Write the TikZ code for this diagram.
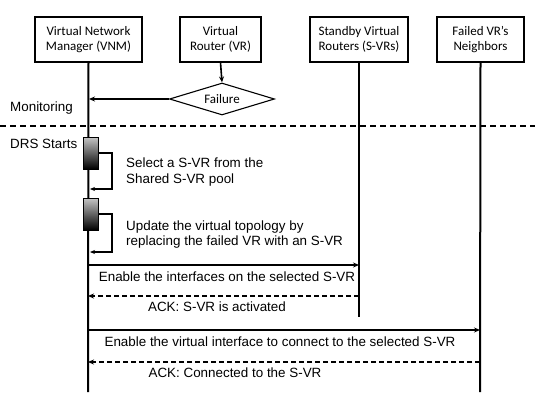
\documentclass[tikz,border=0pt]{standalone}
\usepackage{fontspec}
\setmainfont{Liberation Sans}
\newfontfamily\boxfont{Carlito}
\usetikzlibrary{shapes.geometric,arrows.meta}
\begin{document}
\begin{tikzpicture}[x=1pt,y=-1pt,
  actor/.style={draw,line width=1.1pt,minimum width=#1,minimum height=45pt,align=center,font=\boxfont\fontsize{13}{15.5}\selectfont,inner sep=2pt},
  life/.style={line width=2pt},
  msg/.style={line width=1.6pt,-{Stealth[length=6pt,width=5pt]}},
  ack/.style={msg,dash pattern=on 5pt off 3pt},
  lbl/.style={font=\fontsize{13.4}{15.5}\selectfont,inner sep=0pt},
  act/.style={draw,line width=0.6pt,top color=gray!45,bottom color=black,minimum width=15pt,minimum height=32pt,inner sep=0pt}]
\useasboundingbox (0,0) rectangle (535,401);
% actors
\node[actor=107pt] (vnm) at (88.5,39.5) {Virtual Network\\Manager (VNM)};
\node[actor=81pt] (vr) at (220.5,39.5) {Virtual\\Router (VR)};
\node[actor=98pt] (svr) at (359,39.5) {Standby Virtual\\Routers (S-VRs)};
\node[actor=87pt] (nb) at (480.5,39.5) {Failed VR’s\\Neighbors};
% lifeline ends
\coordinate (vnmEnd) at (88,392);
\coordinate (svrEnd) at (359,317);
\coordinate (nbEnd) at (480,392);
\draw[life] (vnm.south) -- (vnmEnd);
\draw[life] (svr.south) -- (svrEnd);
\draw[life] (nb.south) -- (nbEnd);
% failure
\node[diamond,draw,line width=1.1pt,aspect=3.3,inner sep=0pt,minimum width=105pt,minimum height=32pt,font=\boxfont\fontsize{13}{15}\selectfont] (fail) at (222,99) {Failure};
\draw[msg] (vr.south) -- (fail.north);
\coordinate (monEnd) at (89,99);
\draw[msg] (fail.west) -- (monEnd);
\node[lbl,anchor=west] (mon) at (10,108) {Monitoring};
\coordinate (dl) at (0,126);
\coordinate (dr) at (535,126);
\draw[line width=1.3pt,dash pattern=on 6pt off 4pt] (dl) -- (dr);
\node[lbl,anchor=west] (drs) at (10,144) {DRS Starts};
% activation 1
\node[act] (a1) at (90.5,153) {};
\coordinate (l1a) at (112,153);
\coordinate (l1b) at (112,189);
\coordinate (l1c) at (90,189);
\draw[line width=1.5pt,-{Stealth[length=5pt,width=4pt]}] (a1.east |- l1a) -- (l1a) -- (l1b) -- (l1c);
\node[lbl,anchor=west,align=left] (t1) at (126,172) {Select a S-VR from the\\Shared S-VR pool};
% activation 2
\node[act] (a2) at (90.5,214) {};
\coordinate (l2a) at (112,214);
\coordinate (l2b) at (112,252);
\coordinate (l2c) at (90,252);
\draw[line width=1.5pt,-{Stealth[length=5pt,width=4pt]}] (a2.east |- l2a) -- (l2a) -- (l2b) -- (l2c);
\node[lbl,anchor=west,align=left] (t2) at (126,234.5) {Update the virtual topology by\\replacing the failed VR with an S-VR};
% messages
\coordinate (m1s) at (88,265);
\coordinate (m1e) at (359,265);
\draw[msg] (m1s) -- (m1e);
\node[lbl] (m1t) at (227,277) {Enable the interfaces on the selected S-VR};
\coordinate (m2s) at (359,296);
\coordinate (m2e) at (88,296);
\draw[ack] (m2s) -- (m2e);
\node[lbl] (m2t) at (217,307) {ACK: S-VR is activated};
\coordinate (m3s) at (88,330);
\coordinate (m3e) at (480,330);
\draw[msg] (m3s) -- (m3e);
\node[lbl] (m3t) at (280,342) {Enable the virtual interface to connect to the selected S-VR};
\coordinate (m4s) at (480,362);
\coordinate (m4e) at (88,362);
\draw[ack] (m4s) -- (m4e);
\node[lbl] (m4t) at (235,373) {ACK: Connected to the S-VR};
\end{tikzpicture}
\end{document}
